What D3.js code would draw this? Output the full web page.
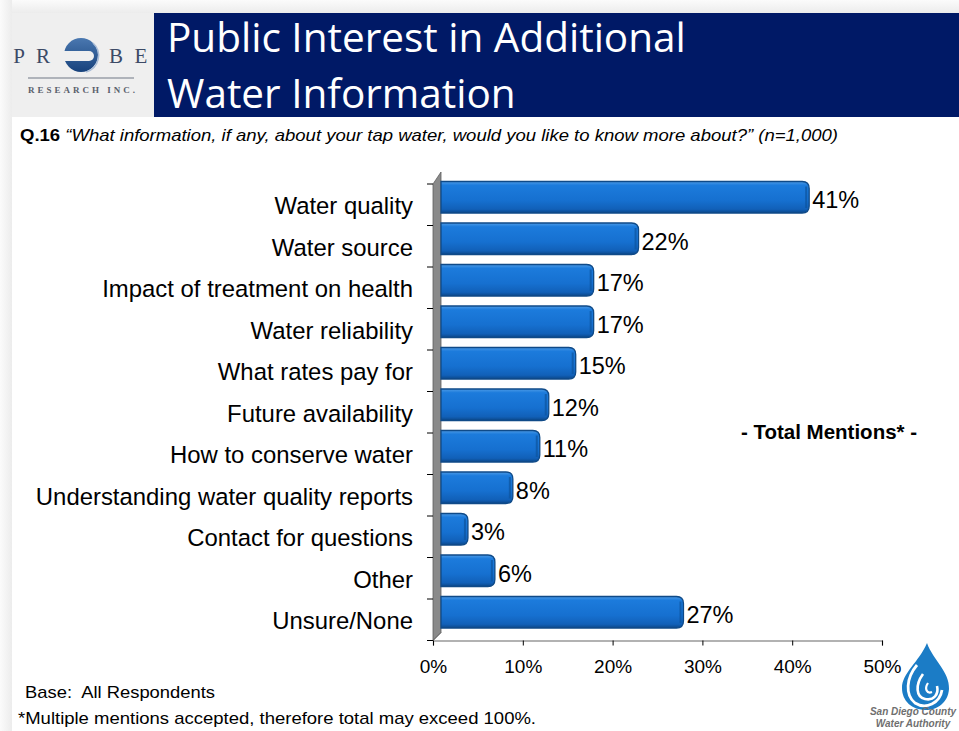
<!DOCTYPE html>
<html>
<head>
<meta charset="utf-8">
<script src="https://cdn.jsdelivr.net/npm/d3@7"></script>
<style>
  html, body { margin: 0; padding: 0; background: #ffffff; }
  svg { display: block; }
</style>
</head>
<body>
<svg id="chart" width="959" height="731"></svg>
<script>
// Survey question Q.16 — total mentions, % of respondents
const categories = [
  "Water quality",
  "Water source",
  "Impact of treatment on health",
  "Water reliability",
  "What rates pay for",
  "Future availability",
  "How to conserve water",
  "Understanding water quality reports",
  "Contact for questions",
  "Other",
  "Unsure/None"
];
const values = [41, 22, 17, 17, 15, 12, 11, 8, 3, 6, 27];
const xTicks = [0, 10, 20, 30, 40, 50];
const titleLines = ["Public Interest in Additional", "Water Information"];

const svg = d3.select("#chart");
const W = 959, H = 731;
const sans = "'Liberation Sans', Arial, sans-serif";

const defs = svg.append("defs");

// page backdrop with a soft shadow along the top and left edges
const shadowV = defs.append("linearGradient").attr("id", "shadowTop").attr("x1", 0).attr("y1", 0).attr("x2", 0).attr("y2", 1);
shadowV.append("stop").attr("offset", "0%").attr("stop-color", "#fbfbfb");
shadowV.append("stop").attr("offset", "100%").attr("stop-color", "#ececec");
const shadowH = defs.append("linearGradient").attr("id", "shadowLeft").attr("x1", 0).attr("y1", 0).attr("x2", 1).attr("y2", 0);
shadowH.append("stop").attr("offset", "0%").attr("stop-color", "#fbfbfb");
shadowH.append("stop").attr("offset", "100%").attr("stop-color", "#ececec");

svg.append("rect").attr("width", W).attr("height", H).attr("fill", "#ffffff");
svg.append("rect").attr("x", 0).attr("y", 0).attr("width", W).attr("height", 13).attr("fill", "url(#shadowTop)");
svg.append("rect").attr("x", 0).attr("y", 0).attr("width", 12).attr("height", H).attr("fill", "url(#shadowLeft)");

// header: logo panel + title banner
svg.append("rect").attr("x", 12).attr("y", 13).attr("width", 142).attr("height", 104).attr("fill", "#efefef");
svg.append("rect").attr("x", 154).attr("y", 13).attr("width", W - 154).attr("height", 104).attr("fill", "#001966");

const titleG = svg.append("g");
titleLines.forEach((t, i) => {
  titleG.append("text")
    .attr("x", 167).attr("y", 52 + i * 56)
    .attr("fill", "#ffffff")
    .attr("font-family", "'Open Sans', 'Noto Sans', sans-serif")
    .attr("font-size", 40)
    .text(t);
});
// size the title so the first line spans 519px
{
  const first = titleG.select("text").node();
  const w = first.getComputedTextLength();
  titleG.selectAll("text").attr("font-size", 40 * 519 / w);
}

// PROBE Research logo
const logo = svg.append("g");
const serif = "'Liberation Serif', 'DejaVu Serif', serif";
[["P", 19], ["R", 43], ["B", 116], ["E", 141]].forEach(([ch, x]) => {
  logo.append("text").attr("x", x).attr("y", 63).attr("text-anchor", "middle")
    .attr("font-family", serif).attr("font-size", 21).attr("fill", "#3c4a66").text(ch);
});
const orb = defs.append("linearGradient").attr("id", "orb").attr("x1", 0).attr("y1", 0).attr("x2", 0).attr("y2", 1);
orb.append("stop").attr("offset", "0%").attr("stop-color", "#4a78b0");
orb.append("stop").attr("offset", "100%").attr("stop-color", "#17427c");
logo.append("circle").attr("cx", 81).attr("cy", 55).attr("r", 17).attr("fill", "url(#orb)");
logo.append("path").attr("d", "M64,51 L89,51 A5,5 0 0 1 89,61 L64,61 Z").attr("fill", "#efefef");
logo.append("path").attr("d", "M93,43 A17,17 0 0 1 86,72").attr("fill", "none").attr("stroke", "#a9bcd6").attr("stroke-width", 1.5);
logo.append("line").attr("x1", 28).attr("x2", 134).attr("y1", 78).attr("y2", 78).attr("stroke", "#9a9fa8").attr("stroke-width", 1.5);
logo.append("text").attr("x", 28).attr("y", 93)
  .attr("font-family", serif).attr("font-weight", "bold").attr("font-size", 9)
  .attr("textLength", 107).attr("lengthAdjust", "spacing")
  .attr("fill", "#5a606c").text("RESEARCH INC.");

// question text
const q = svg.append("text").attr("x", 20).attr("y", 141)
  .attr("font-family", sans).attr("font-size", 16.5).attr("fill", "#000")
  .attr("textLength", 818).attr("lengthAdjust", "spacingAndGlyphs");
q.append("tspan").attr("font-weight", "bold").text("Q.16");
q.append("tspan").attr("font-style", "italic").text(" \u201cWhat information, if any, about your tap water, would you like to know more about?\u201d (n=1,000)");

// scales
const depth = 8;
const x = d3.scaleLinear().domain([0, 50]).range([433, 882]);
const y = d3.scaleBand().domain(categories).range([184, 640.5]).padding(0);
const bw = y.bandwidth();
const barH = 31.5;
const barTop = c => y(c) + (bw - barH) / 2 - depth + 0.5;

// San Diego County Water Authority mark (sits behind the axis labels)
const sd = svg.append("g");
sd.append("path")
  .attr("d", "M927,643 C933,660 950,672 949,689 C948,703 937,710 926,710 C912,710 902,701 902,688 C902,673 919,662 927,643 Z")
  .attr("fill", "#1b7cc6");
sd.append("path").attr("d", "M917,665 C906,678 905,695 915,703 C926,710 940,703 942,690")
  .attr("fill", "none").attr("stroke", "#ffffff").attr("stroke-width", 2.8);
sd.append("path").attr("d", "M923,674 C915,685 916,697 925,699 C934,701 939,694 937,686")
  .attr("fill", "none").attr("stroke", "#ffffff").attr("stroke-width", 2.6);
sd.append("path").attr("d", "M928,683 C924,689 927,694 932,692")
  .attr("fill", "none").attr("stroke", "#ffffff").attr("stroke-width", 2.2);
sd.append("text").attr("x", 913).attr("y", 715).attr("text-anchor", "middle")
  .attr("font-family", sans).attr("font-weight", "bold").attr("font-style", "italic")
  .attr("font-size", 10).attr("fill", "#6f6f6f").text("San Diego County");
sd.append("text").attr("x", 913).attr("y", 727).attr("text-anchor", "middle")
  .attr("font-family", sans).attr("font-weight", "bold").attr("font-style", "italic")
  .attr("font-size", 10).attr("fill", "#6f6f6f").text("Water Authority");

// 3-D wall and floor edge
const x0 = x(0), yTop = y.range()[0], yBot = y.range()[1];
svg.append("path")
  .attr("d", `M${x0},${yTop} L${x0 + depth},${yTop - depth - 4} L${x0 + depth},${yBot - depth} L${x0},${yBot} Z`)
  .attr("fill", "#8a8a8a").attr("stroke", "#5e5e5e").attr("stroke-width", 0.8);
svg.append("path")
  .attr("d", `M${x0},${yBot} L${x0 + depth},${yBot - depth}`)
  .attr("stroke", "#5e5e5e").attr("stroke-width", 0.8);

// bar shading
const barGrad = defs.append("linearGradient").attr("id", "barGrad").attr("x1", 0).attr("y1", 0).attr("x2", 0).attr("y2", 1);
barGrad.append("stop").attr("offset", "0%").attr("stop-color", "#4d9be6");
barGrad.append("stop").attr("offset", "12%").attr("stop-color", "#1c7bdc");
barGrad.append("stop").attr("offset", "60%").attr("stop-color", "#1670d0");
barGrad.append("stop").attr("offset", "88%").attr("stop-color", "#1160b8");
barGrad.append("stop").attr("offset", "100%").attr("stop-color", "#0b4789");

const barPath = (c, v) => {
  const xs = x0 + depth, xe = x(v) + depth, t = barTop(c), h = barH, r = Math.min(7, (xe - xs) / 2);
  return `M${xs},${t} L${xe - r},${t} Q${xe},${t} ${xe},${t + r} L${xe},${t + h - r} Q${xe},${t + h} ${xe - r},${t + h} L${xs},${t + h} Z`;
};

const data = categories.map((c, i) => ({ c, v: values[i] }));

svg.append("g").selectAll("path").data(data).join("path")
  .attr("d", d => barPath(d.c, d.v))
  .attr("fill", "url(#barGrad)")
  .attr("stroke", "#0f4a88").attr("stroke-width", 1.3);

// rounded end cap shading
svg.append("g").selectAll("path").data(data).join("path")
  .attr("d", d => {
    const xe = x(d.v) + depth, t = barTop(d.c);
    return `M${xe - 3},${t + 5} L${xe - 3},${t + barH - 5}`;
  })
  .attr("stroke", "#0d549e").attr("stroke-width", 2).attr("opacity", 0.7);

// value labels
svg.append("g").selectAll("text").data(data).join("text")
  .attr("x", d => x(d.v) + depth + 3)
  .attr("y", d => barTop(d.c) + barH / 2 + 3)
  .attr("dy", "0.35em")
  .attr("font-family", sans).attr("font-size", 23.5).attr("fill", "#000")
  .text(d => d.v + "%");

// category labels
svg.append("g").selectAll("text").data(categories).join("text")
  .attr("x", 413)
  .attr("y", c => y(c) + bw / 2 + 1)
  .attr("dy", "0.35em")
  .attr("text-anchor", "end")
  .attr("font-family", sans).attr("font-size", 23.9).attr("fill", "#000")
  .text(c => c);

// category boundary ticks
const bounds = categories.map(c => y(c)).concat([yBot]);
svg.append("g").selectAll("line").data(bounds).join("line")
  .attr("x1", x0 - 6).attr("x2", x0).attr("y1", d => d).attr("y2", d => d)
  .attr("stroke", "#000").attr("stroke-width", 1);

// percentage axis
const xAxis = d3.axisBottom(x).tickValues(xTicks).tickFormat(d => d + "%").tickSize(5).tickPadding(14);
const ax = svg.append("g").attr("transform", `translate(0,${yBot})`).call(xAxis);
ax.select(".domain").attr("stroke", "#666").attr("stroke-width", 1.2);
ax.selectAll(".tick line").attr("stroke", "#000");
ax.selectAll(".tick text").attr("font-family", sans).attr("font-size", 19).attr("fill", "#000");

// annotation
svg.append("text").attr("x", 829).attr("y", 439).attr("text-anchor", "middle")
  .attr("font-family", sans).attr("font-weight", "bold").attr("font-size", 20.5).attr("fill", "#000")
  .text("- Total Mentions* -");

// footnotes
svg.append("text").attr("x", 25).attr("y", 698)
  .attr("font-family", sans).attr("font-size", 17).attr("fill", "#000")
  .attr("textLength", 190).attr("lengthAdjust", "spacingAndGlyphs")
  .attr("xml:space", "preserve").text("Base:  All Respondents");
svg.append("text").attr("x", 18).attr("y", 724)
  .attr("font-family", sans).attr("font-size", 17).attr("fill", "#000")
  .attr("textLength", 518).attr("lengthAdjust", "spacingAndGlyphs")
  .text("*Multiple mentions accepted, therefore total may exceed 100%.");
</script>
</body>
</html>
